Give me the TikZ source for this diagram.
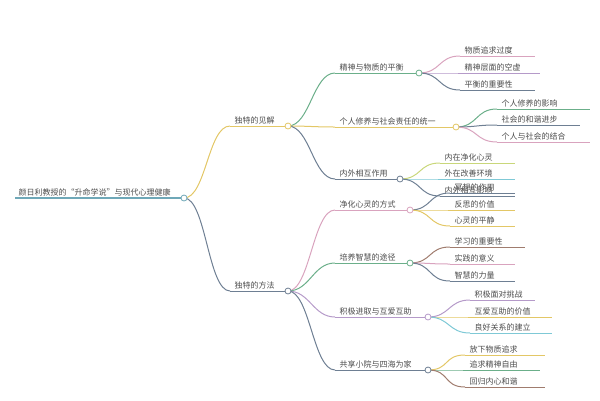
\documentclass[tikz,border=0pt]{standalone}
\usepackage{fontspec}
\setmainfont{Noto Sans CJK SC}
\definecolor{cteal}{HTML}{6FA8B8}
\definecolor{cyel}{HTML}{E3C766}
\definecolor{cslate}{HTML}{6E7F93}
\definecolor{cgreen}{HTML}{6BAF8A}
\definecolor{cpink}{HTML}{D9A3BE}
\definecolor{clilac}{HTML}{B59AC9}
\definecolor{cbrown}{HTML}{A07C6E}
\definecolor{ccyan}{HTML}{7FC9D6}
\definecolor{clime}{HTML}{C9D77A}
\tikzset{
  lbl/.style={anchor=south west, inner sep=1.5pt, text=black!70, font=\fontsize{8}{10}\selectfont},
  knot/.style={circle, draw=#1, fill=white, line width=0.8pt, inner sep=0pt, minimum size=6pt},
}
% name, x start, x end, y, colour, text
\newcommand{\twig}[6]{%
  \draw[#5, line width=1pt] (#2,#4) coordinate (#1-s) -- (#3,#4) coordinate (#1-e);
  \node[lbl] (#1) at (#2+3,#4) {#6};}
\newcommand{\bend}[3]{\draw[#3, line width=1pt] (#1-e) .. controls +(22,0) and +(-22,0) .. (#2-s);}
\begin{document}
\begin{tikzpicture}[x=1pt, y=-1pt]
  \useasboundingbox (0,0) rectangle (600,400);
  % root
  \draw[cteal, line width=1.2pt] (15,198) coordinate (root-s) -- (184,198) coordinate (root-e);
  \node[lbl, text width=160pt, align=left] (root) at (17,198) {颜日利教授的“升命学说”与现代心理健康};
  % level one
  \twig{view}{230}{288}{126}{cyel}{独特的见解}
  \twig{way}{230}{288}{291}{cslate}{独特的方法}
  \bend{root}{view}{cyel}
  \bend{root}{way}{cslate}
  % level two
  \twig{bal}{335}{419}{73}{cgreen}{精神与物质的平衡}
  \twig{uni}{335}{456}{127}{cyel}{个人修养与社会责任的统一}
  \twig{inout}{335}{400}{179}{cslate}{内外相互作用}
  \twig{pure}{335}{410}{210}{cpink}{净化心灵的方式}
  \twig{wise}{335}{410}{263}{cgreen}{培养智慧的途径}
  \twig{act}{335}{428}{317}{clilac}{积极进取与互爱互助}
  \twig{home}{335}{428}{370}{cslate}{共享小院与四海为家}
  \foreach \c/\k in {bal/cgreen,uni/cyel,inout/cslate}{\bend{view}{\c}{\k}}
  \foreach \c/\k in {pure/cpink,wise/cgreen,act/clilac,home/cslate}{\bend{way}{\c}{\k}}
  % leaves
  \twig{a1}{460}{535}{56}{cpink}{物质追求过度}
  \twig{a2}{460}{540}{73}{clilac}{精神层面的空虚}
  \twig{a3}{460}{535}{90}{cslate}{平衡的重要性}
  \twig{b1}{497}{590}{109}{cgreen}{个人修养的影响}
  \twig{b2}{497}{580}{125}{cslate}{社会的和谐进步}
  \twig{b3}{497}{590}{142}{cpink}{个人与社会的结合}
  \twig{c1}{440}{515}{163}{clime}{内在净化心灵}
  \twig{c2}{440}{515}{179}{ccyan}{外在改善环境}
  \twig{c3}{440}{515}{196}{cslate}{内外相互影响}
  \twig{d1}{450}{515}{193}{cslate}{冥想的作用}
  \twig{d2}{450}{515}{210}{cyel}{反思的价值}
  \twig{d3}{450}{515}{226}{cyel}{心灵的平静}
  \twig{e1}{450}{525}{247}{cbrown}{学习的重要性}
  \twig{e2}{450}{515}{264}{cpink}{实践的意义}
  \twig{e3}{450}{515}{281}{cslate}{智慧的力量}
  \twig{f1}{470}{535}{300}{clilac}{积极面对挑战}
  \twig{f2}{470}{552}{317}{cyel}{互爱互助的价值}
  \twig{f3}{470}{552}{333}{ccyan}{良好关系的建立}
  \twig{g1}{465}{545}{355}{cyel}{放下物质追求}
  \twig{g2}{465}{540}{370}{cgreen}{追求精神自由}
  \twig{g3}{465}{545}{387}{cbrown}{回归内心和谐}
  \foreach \p/\c/\k in {bal/a1/cpink,bal/a2/clilac,bal/a3/cslate,
      uni/b1/cgreen,uni/b2/cslate,uni/b3/cpink,
      inout/c1/clime,inout/c2/ccyan,inout/c3/cslate,
      pure/d1/cslate,pure/d2/cyel,pure/d3/cyel,
      wise/e1/cbrown,wise/e2/cpink,wise/e3/cslate,
      act/f1/clilac,act/f2/cyel,act/f3/ccyan,
      home/g1/cyel,home/g2/cgreen,home/g3/cbrown}{\bend{\p}{\c}{\k}}
  % knots
  \foreach \n/\k in {root/cteal,view/cyel,way/cslate,bal/cgreen,uni/cyel,inout/cslate,
      pure/cpink,wise/cgreen,act/clilac,home/cslate}{\node[knot=\k] at (\n-e) {};}
\end{tikzpicture}
\end{document}
